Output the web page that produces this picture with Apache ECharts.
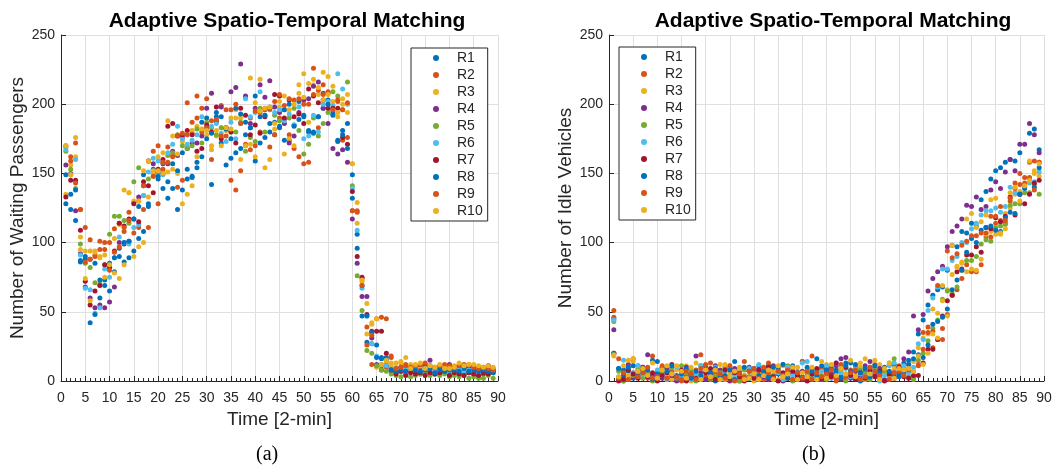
<!DOCTYPE html>
<html>
<head>
<meta charset="utf-8">
<script src="https://cdn.jsdelivr.net/npm/echarts@6/dist/echarts.min.js"></script>
<style>
  html, body { margin: 0; padding: 0; background: #fff; }
  #main { width: 1063px; height: 471px; }
</style>
</head>
<body>
<div id="main"></div>
<script>
  // series names + matlab default colours (cycle of 7)
  const names = ['R1', 'R2', 'R3', 'R4', 'R5', 'R6', 'R7', 'R8', 'R9', 'R10']
  const colors = ['#0072BD', '#D95319', '#EDB120', '#7E2F8E', '#77AC30', '#4DBEEE', '#A2142F', '#0072BD', '#D95319', '#EDB120']
  const xTicks = [0, 5, 10, 15, 20, 25, 30, 35, 40, 45, 50, 55, 60, 65, 70, 75, 80, 85, 90]
  const yTicks = [0, 50, 100, 150, 200, 250]

  // (a) waiting passengers, time step 1..89
  const waitR1 = [128,124,116,86,90,42,85,60,69,65, 79,90,86,89,94,103,108,126,150,146, 139,132,139,124,138,146,147,154,187,190, 142,191,172,156,161,165,168,178,183,159, 172,176,180,178,183,174,174,185,189,192, 180,180,191,197,203,192,174,181,186,149, 106,47,28,27,26,17,15,7,6,7, 5,7,6,5,7,6,5,5,6,5, 6,5,5,6,5,4,5,6,6]
  const waitR2 = [169,162,172,124,111,102,91,101,100,100, 110,114,108,122,129,111,124,111,166,170, 153,169,163,140,145,201,179,206,197,204, 160,188,199,196,145,138,152,171,190,170, 180,197,169,178,190,189,178,168,162,157, 158,226,183,214,209,195,202,174,176,123, 123,74,26,12,11,11,10,17,8,9, 12,8,10,10,12,5,7,9,8,7, 10,5,7,8,8,7,9,8,9]
  const waitR3 = [135,156,162,104,94,94,94,89,91,83, 103,113,84,136,130,97,100,133,150,162, 165,188,177,150,173,169,181,184,182,178, 167,177,183,181,190,196,190,205,219,162, 218,154,160,182,198,164,175,170,214,222, 215,214,207,223,220,202,191,204,207,157, 114,72,34,41,10,12,13,13,10,13, 10,12,10,11,11,11,9,10,10,10, 11,12,10,11,10,10,9,11,9]
  const waitR4 = [156,150,123,92,68,60,53,55,53,57, 68,100,99,101,117,133,141,159,157,151, 157,157,166,163,176,168,172,172,177,197, 208,187,198,183,209,212,229,206,186,197, 214,205,217,198,194,186,172,177,194,203, 204,213,216,197,186,168,164,167,158,117, 85,61,61,31,12,8,11,9,6,10, 7,9,11,12,11,15,9,10,8,12, 9,11,10,10,11,8,9,11,8]
  const waitR5 = [166,153,139,99,85,82,71,70,84,106, 119,119,116,114,144,154,134,146,148,151, 158,163,165,178,170,168,170,182,172,187, 183,178,183,182,180,180,187,166,176,173, 197,180,196,192,188,196,190,197,181,164, 171,190,177,186,194,209,206,196,216,141, 76,51,22,20,11,8,7,5,4,3, 6,3,4,5,6,4,5,4,5,3, 4,3,4,2,3,2,2,4,2]
  const waitR6 = [167,149,160,91,67,66,49,53,81,75, 89,104,100,99,111,113,134,151,161,159, 149,165,171,184,175,171,174,178,191,183, 184,186,179,173,187,175,186,204,191,194, 209,192,198,194,196,188,193,185,198,175, 177,192,180,200,202,199,222,211,200,139, 109,67,47,27,18,12,11,10,9,8, 8,7,9,7,9,8,9,7,8,6, 7,8,7,8,9,6,7,8,7]
  const waitR7 = [133,145,145,109,72,55,65,69,84,82, 94,114,112,117,128,115,144,141,136,153, 160,184,186,177,178,181,178,166,168,185, 180,198,175,183,180,172,197,192,178,185, 179,191,197,207,206,190,203,191,193,186, 211,206,201,203,197,197,197,176,171,137, 90,75,48,36,36,36,20,8,5,7, 4,6,5,6,4,6,5,6,7,4, 6,5,4,6,5,4,6,5,7]
  const waitR8 = [149,135,138,87,88,88,48,73,73,85, 89,96,100,101,117,126,149,128,153,148, 150,144,157,152,165,153,148,158,162,175, 179,194,191,182,175,197,193,187,183,206, 191,192,186,187,184,196,200,184,202,191, 181,179,191,208,200,193,173,178,168,132, 96,69,47,35,17,16,17,8,7,8, 7,9,8,7,8,9,6,8,7,8, 8,7,9,7,8,7,8,7,6]
  const waitR9 = [170,159,143,124,86,88,90,95,95,80, 93,97,111,116,107,130,141,159,148,128, 158,158,162,177,179,178,187,190,180,183, 188,189,177,177,196,200,186,170,167,195, 194,196,197,202,207,199,204,203,204,200, 200,207,210,207,208,196,203,196,201,123, 122,69,39,33,45,46,45,18,9,10, 11,10,11,12,13,11,10,11,12,11, 10,11,12,12,10,9,10,9,8]
  const waitR10 = [170,149,176,95,74,58,93,90,75,84, 78,74,138,136,90,130,152,159,152,152, 150,151,153,164,128,135,141,162,182,181, 170,181,170,183,182,190,160,170,171,201, 195,197,198,186,202,206,196,200,208,205, 187,218,212,203,207,213,194,200,194,157, 129,73,56,42,45,12,15,12,13,14, 17,9,12,13,9,11,10,12,9,9, 10,13,11,12,12,11,10,11,10]

  // (b) idle vehicles, time step 1..89
  const idleR1 = [45,9,3,7,2,11,8,5,15,14, 6,8,2,4,1,5,3,1,11,10, 2,0,6,3,9,14,1,4,2,5, 11,9,11,4,5,12,8,10,3,14, 6,2,16,9,10,4,8,3,13,13, 3,0,1,7,10,2,7,4,12,3, 13,15,21,34,44,55,62,66,68,80, 98,97,108,107,114,112,131,137,146,152, 154,158,160,159,165,141,179,182,167]
  const idleR2 = [46,16,0,9,6,4,10,2,18,5, 11,3,7,1,0,4,2,8,19,3, 13,5,2,10,4,7,0,14,3,8, 6,1,13,3,10,2,7,1,5,14, 4,18,1,9,3,6,0,12,5,8, 10,2,7,4,12,1,9,6,3,11, 7,12,3,11,35,39,24,30,38,48, 62,66,74,84,79,79,84,104,104,114, 116,114,130,143,150,147,158,159,158]
  const idleR3 = [18,2,8,4,14,3,9,6,1,7, 10,5,1,8,3,11,0,6,2,9, 7,3,12,1,6,2,10,4,8,0, 5,9,2,7,1,11,3,6,10,2, 8,4,5,1,12,7,3,9,2,6, 4,10,1,8,3,12,5,2,9,6, 5,9,14,24,31,34,52,49,69,66, 77,83,86,79,81,80,88,106,108,106, 106,121,125,135,137,142,159,150,148]
  const idleR4 = [37,1,5,12,3,8,10,19,4,6, 2,9,4,0,7,10,3,18,6,1, 5,11,8,3,0,9,6,2,10,4, 8,3,1,11,6,0,9,5,2,7, 3,9,6,1,8,5,11,16,17,2, 7,4,11,14,5,9,1,12,6,10, 16,21,47,37,48,65,74,79,83,97, 108,112,117,127,126,133,124,126,138,144, 139,151,160,152,171,171,186,178,165]
  const idleR5 = [43,7,0,1,4,9,2,6,0,3, 5,1,10,2,11,6,8,0,4,7, 1,3,6,9,2,5,0,8,3,6, 2,7,4,1,9,3,11,0,5,1, 6,2,8,4,1,11,3,7,0,5, 2,8,5,1,9,4,7,13,16,6, 9,3,1,15,20,29,38,44,59,65, 63,68,80,87,87,90,99,102,101,111, 112,113,127,128,128,136,136,142,135]
  const idleR6 = [44,3,15,10,6,11,5,9,2,8, 4,1,6,10,3,7,1,5,11,8, 3,10,1,7,11,4,8,2,9,5, 12,4,8,3,6,1,10,4,7,13, 14,5,3,7,11,2,13,6,9,3, 9,5,3,10,7,0,4,11,13,8, 11,6,10,27,30,51,60,68,81,81, 87,90,100,100,110,114,120,123,123,125, 122,126,140,136,135,140,143,144,151]
  const idleR7 = [20,0,1,8,5,2,7,3,6,0, 4,6,12,3,8,0,5,2,1,6, 9,1,4,8,2,6,3,0,7,2, 8,5,10,3,0,6,2,7,4,1, 0,5,9,2,6,3,13,1,10,4, 1,6,2,8,3,7,0,5,2,10, 3,2,4,4,13,23,23,30,47,58, 62,79,81,91,91,97,93,111,110,118, 115,119,133,120,135,128,135,143,145]
  const idleR8 = [20,9,8,10,11,4,6,8,1,5, 9,7,11,3,5,9,2,7,4,11, 6,9,3,4,8,1,6,10,2,9, 4,7,3,10,8,12,2,11,6,3, 10,7,4,11,8,9,6,2,11,7, 12,6,9,3,11,6,10,7,4,5, 6,12,16,19,17,26,41,43,46,52, 66,73,80,93,103,100,109,111,112,109, 108,118,122,121,135,139,146,140,154]
  const idleR9 = [51,2,6,1,16,3,6,10,2,3, 10,2,6,3,1,7,5,1,9,12, 2,7,5,2,11,0,5,3,7,9, 2,10,6,2,7,4,8,1,6,2, 7,1,6,3,5,8,2,9,3,6, 8,1,3,10,7,4,9,1,6,7, 4,8,7,12,23,35,36,69,30,94, 89,92,98,101,105,105,107,107,119,119, 126,116,132,139,142,143,147,138,158]
  const idleR10 = [19,3,11,15,16,7,9,4,13,2, 8,11,5,11,7,2,10,13,1,8, 3,8,1,12,3,7,9,1,2,5, 1,4,8,1,11,3,5,10,1,6, 3,10,1,14,2,12,4,9,5,15, 3,13,16,5,15,1,9,13,2,9, 8,9,7,18,12,20,34,31,58,47, 98,82,85,117,121,111,115,120,131,132, 107,110,136,140,130,141,145,152,157]

  const waitData = [waitR1, waitR2, waitR3, waitR4, waitR5, waitR6, waitR7, waitR8, waitR9, waitR10]
  const idleData = [idleR1, idleR2, idleR3, idleR4, idleR5, idleR6, idleR7, idleR8, idleR9, idleR10]

  const font = 'Liberation Sans, Arial, sans-serif'
  const axisColor = '#262626'

  function xAxis (gridIndex) {
    return {
      gridIndex: gridIndex,
      type: 'value',
      min: 0,
      max: 90,
      interval: 5,
      name: 'Time [2-min]',
      nameLocation: 'middle',
      nameGap: 28,
      nameTextStyle: { color: axisColor, fontFamily: font, fontSize: 19 },
      axisLine: { onZero: false, lineStyle: { color: axisColor, width: 1 } },
      axisTick: { inside: true, length: 5, lineStyle: { color: axisColor } },
      minorTick: { show: true, splitNumber: 5, length: 3, lineStyle: { color: axisColor } },
      axisLabel: {
        color: axisColor, fontFamily: font, fontSize: 14, margin: 10,
        formatter: (v) => xTicks.indexOf(v) >= 0 ? String(v) : ''
      },
      splitLine: { show: true, lineStyle: { color: '#dfdfdf', width: 1 } }
    }
  }

  function yAxis (gridIndex, title) {
    return {
      gridIndex: gridIndex,
      type: 'value',
      min: 0,
      max: 250,
      interval: 50,
      name: title,
      nameLocation: 'middle',
      nameGap: 32,
      nameTextStyle: { color: axisColor, fontFamily: font, fontSize: 19 },
      axisLine: { show: true, lineStyle: { color: axisColor, width: 1 } },
      axisTick: { show: true, inside: true, length: 5, lineStyle: { color: axisColor } },
      axisLabel: {
        color: axisColor, fontFamily: font, fontSize: 14, margin: 6,
        formatter: (v) => yTicks.indexOf(v) >= 0 ? String(v) : ''
      },
      splitLine: { show: true, lineStyle: { color: '#dfdfdf', width: 1 } }
    }
  }

  function legend (left, top, seriesSuffix) {
    return {
      orient: 'vertical',
      left: left,
      top: top,
      data: names.map((n) => n + seriesSuffix),
      formatter: (n) => n.replace(seriesSuffix, ''),
      icon: 'circle',
      itemWidth: 6,
      itemHeight: 6,
      itemGap: 3,
      padding: [3, 5, 3, 22],
      borderColor: '#262626',
      borderWidth: 1,
      backgroundColor: '#fff',
      textStyle: { color: axisColor, fontFamily: font, fontSize: 14, lineHeight: 14, padding: [0, 0, 0, 13] }
    }
  }

  const series = []
  waitData.forEach((arr, k) => {
    series.push({
      name: names[k] + ' ',
      type: 'scatter',
      xAxisIndex: 0,
      yAxisIndex: 0,
      symbol: 'circle',
      symbolSize: 5,
      itemStyle: { color: colors[k], opacity: 1 },
      data: arr.map((v, i) => [i + 1, v])
    })
  })
  idleData.forEach((arr, k) => {
    series.push({
      name: names[k] + '  ',
      type: 'scatter',
      xAxisIndex: 1,
      yAxisIndex: 1,
      symbol: 'circle',
      symbolSize: 5,
      itemStyle: { color: colors[k], opacity: 1 },
      data: arr.map((v, i) => [i + 1, v])
    })
  })

  const chart = echarts.init(document.getElementById('main'))
  const option = {
    backgroundColor: '#fff',
    animation: false,
    title: [
      {
        text: 'Adaptive Spatio-Temporal Matching',
        left: 282, top: 6, textAlign: 'center',
        textStyle: { color: '#000', fontFamily: font, fontWeight: 'bold', fontSize: 21 }
      },
      {
        text: 'Adaptive Spatio-Temporal Matching',
        left: 828, top: 6, textAlign: 'center',
        textStyle: { color: '#000', fontFamily: font, fontWeight: 'bold', fontSize: 21 }
      }
    ],
    grid: [
      { left: 61, right: 565, top: 35, bottom: 90 },
      { left: 609, right: 19, top: 35, bottom: 90 }
    ],
    legend: [legend(411, 48, ' '), legend(619, 47, '  ')],
    xAxis: [xAxis(0), xAxis(1)],
    yAxis: [yAxis(0, 'Number of Waiting Passengers'), yAxis(1, 'Number of Idle Vehicles')],
    graphic: [
      { type: 'text', left: 256, top: 445, style: { text: '(a)', fill: '#000', font: '20px "Liberation Serif", "DejaVu Serif", serif' } },
      { type: 'text', left: 802, top: 445, style: { text: '(b)', fill: '#000', font: '20px "Liberation Serif", "DejaVu Serif", serif' } }
    ],
    series: series
  }
  chart.setOption(option)
  window.addEventListener('resize', chart.resize)
</script>
</body>
</html>
